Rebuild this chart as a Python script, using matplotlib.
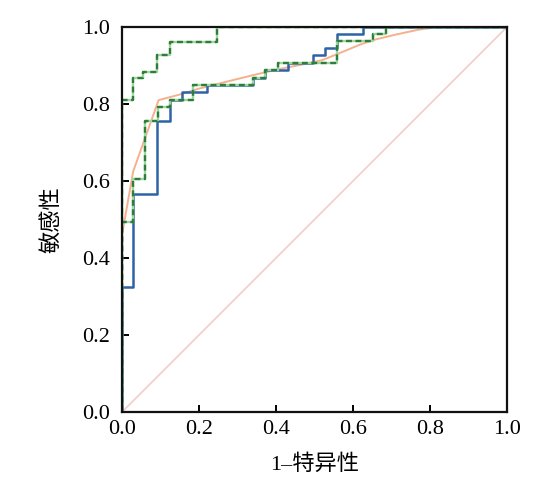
import matplotlib
matplotlib.use("Agg")
import matplotlib.pyplot as plt

plt.rcParams['font.family'] = ['Liberation Serif', 'Noto Sans CJK SC', 'DejaVu Sans']

# ROC breakpoints (step curves, steps-post)
fpr_blue = [0, 0, 0.029, 0.092, 0.124, 0.155, 0.22, 0.341, 0.371, 0.432, 0.497, 0.528, 0.559, 0.625, 1.0]
tpr_blue = [0, 0.324, 0.567, 0.757, 0.81, 0.83, 0.849, 0.867, 0.888, 0.906, 0.926, 0.946, 0.983, 1.0, 1.0]

fpr_green = [0, 0, 0.029, 0.059, 0.093, 0.124, 0.184, 0.341, 0.371, 0.406, 0.559, 0.652, 0.687, 1.0]
tpr_green = [0, 0.493, 0.604, 0.757, 0.793, 0.81, 0.849, 0.867, 0.888, 0.906, 0.963, 0.983, 1.0, 1.0]

fpr_top = [0, 0, 0.029, 0.055, 0.09, 0.125, 0.248, 1.0]
tpr_top = [0, 0.81, 0.867, 0.884, 0.927, 0.962, 1.0, 1.0]

# smooth curve
fpr_orange = [0, 0.029, 0.095, 0.155, 0.2, 0.26, 0.30, 0.37, 0.42, 0.47, 0.52, 0.56,
              0.62, 0.66, 0.71, 0.77, 0.82, 1.0]
tpr_orange = [0.46, 0.625, 0.81, 0.826, 0.84, 0.855, 0.865, 0.882, 0.893, 0.903, 0.914, 0.93,
              0.955, 0.968, 0.98, 0.993, 1.0, 1.0]

ticks = [0.0, 0.2, 0.4, 0.6, 0.8, 1.0]

fig = plt.figure(figsize=(5.43, 4.88), dpi=100)
ax = fig.add_axes([0.2247, 0.1557, 0.709, 0.789])

ax.plot([0, 1], [0, 1], color='#f3cccc', lw=1.2, zorder=1)
ax.plot(fpr_orange, tpr_orange, color='#f6b08c', lw=1.4, zorder=2)
ax.plot(fpr_blue, tpr_blue, color='#2f62a6', lw=1.8, drawstyle='steps-post', zorder=3)
for fx, ty in [(fpr_green, tpr_green), (fpr_top, tpr_top)]:
    ax.plot(fx, ty, color='#9fd69f', lw=1.7, drawstyle='steps-post', zorder=4)
    ax.plot(fx, ty, color='#2e7d3a', lw=1.7, ls=(0, (2.5, 1.5)), drawstyle='steps-post', zorder=5)

ax.set_xlim(0, 1)
ax.set_ylim(0, 1)
ax.set_xticks(ticks)
ax.set_yticks(ticks)
ax.set_xticklabels([f"{t:.1f}" for t in ticks])
ax.set_yticklabels([f"{t:.1f}" for t in ticks])
ax.tick_params(direction='in', length=5, width=1.4, labelsize=16, colors='black')
ax.tick_params(axis='x', pad=6)
ax.tick_params(axis='y', pad=9)
for s in ax.spines.values():
    s.set_linewidth(1.6)
    s.set_color('#111111')
    s.set_zorder(10)

ax.set_xlabel("1–特异性", fontsize=16, labelpad=11)
ax.set_ylabel("敏感性", fontsize=16, labelpad=14)

fig.savefig("out.png", dpi=100)
